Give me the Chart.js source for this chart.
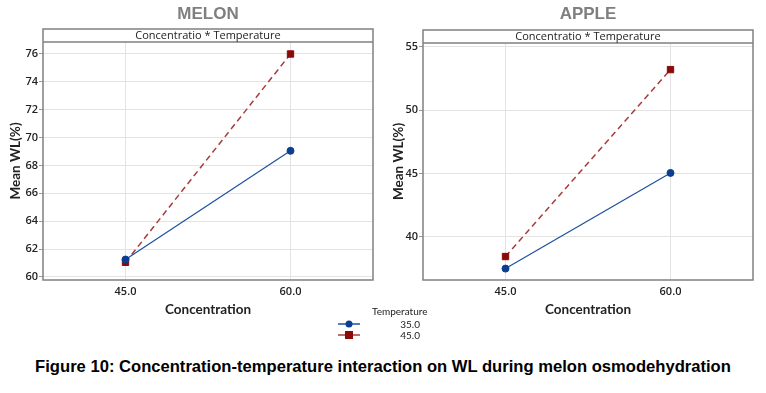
<!DOCTYPE html>
<html>
<head>
<meta charset="utf-8">
<script src="https://cdn.jsdelivr.net/npm/chart.js@4"></script>
<style>
  body { margin: 0; background: #fff; width: 766px; height: 393px; position: relative; overflow: hidden; }
  .panel { position: absolute; top: 0; width: 383px; height: 325px; }
  #legend { position: absolute; left: 338px; top: 305px; font-family: Lato, sans-serif; font-size: 10px; color: #222; }
  #legend .hd { margin-left: 34px; line-height: 13px; }
  #legend .row { display: flex; align-items: center; height: 11.5px; }
  #legend .row span { width: 58px; text-align: right; }
  #caption { position: absolute; left: 0; width: 766px; top: 357px; text-align: center;
    font-family: "Liberation Sans", Arial, sans-serif; font-weight: bold; font-size: 16.6px; color: #000; }
</style>
</head>
<body>
<div class="panel" style="left:0"><canvas id="melonChart" width="383" height="325"></canvas></div>
<div class="panel" style="left:383px"><canvas id="appleChart" width="383" height="325"></canvas></div>
<div id="legend"></div>
<div id="caption">Figure 10: Concentration-temperature interaction on WL during melon osmodehydration</div>

<script>
// data
const concentrations = ['45.0', '60.0'];
const temperatures = ['35.0', '45.0'];

const melon35 = [61.25, 69.05];
const melon45 = [61.05, 76.0];
const melonTicks = [60, 62, 64, 66, 68, 70, 72, 74, 76];

const apple35 = [37.5, 45.05];
const apple45 = [38.45, 53.2];
const appleTicks = [40, 45, 50, 55];

const headerText = 'Concentratio * Temperature';

const seriesStyle = [
    { color: '#1f4f9e', point: '#0b3d91', style: 'circle', radius: 3.5, dash: [], width: 1.2 },
    { color: '#a83c3c', point: '#8a0a0a', style: 'rect', radius: 4.5, dash: [6, 4], width: 1.5 }
];

// draws the panel title, the header strip and the frame
const panelFrame = {
    id: 'panelFrame',
    afterDraw(chart, args, opts) {
        const { ctx, chartArea: a } = chart;
        ctx.save();
        ctx.strokeStyle = '#808080';
        ctx.lineWidth = 1.5;
        ctx.strokeRect(a.left, a.top - 13, a.right - a.left, a.bottom - a.top + 13);
        ctx.beginPath();
        ctx.moveTo(a.left, a.top);
        ctx.lineTo(a.right, a.top);
        ctx.stroke();

        ctx.fillStyle = '#222';
        ctx.font = '11px "Open Sans", sans-serif';
        ctx.textAlign = 'center';
        ctx.textBaseline = 'middle';
        ctx.fillText(headerText, (a.left + a.right) / 2, a.top - 6);

        ctx.fillStyle = '#7f7f7f';
        ctx.font = 'bold 17px "Liberation Sans", Arial, sans-serif';
        ctx.fillText(opts.title, (a.left + a.right) / 2, 14);
        ctx.restore();
    }
};

const buildChart = (canvasId, title, s35, s45, tickValues, yMin, yMax, yWidth, padTop, padRight) => {
    const ctx = document.getElementById(canvasId).getContext('2d');
    const datasets = [s35, s45].map((values, i) => {
        const st = seriesStyle[i];
        return {
            label: temperatures[i],
            data: values,
            borderColor: st.color,
            borderWidth: st.width,
            borderDash: st.dash,
            pointStyle: st.style,
            pointRadius: st.radius,
            pointBackgroundColor: st.point,
            pointBorderColor: st.point,
            pointBorderWidth: 1,
            tension: 0
        };
    });

    return new Chart(ctx, {
        type: 'line',
        data: { labels: concentrations, datasets: datasets },
        options: {
            responsive: false,
            animation: false,
            layout: { padding: { top: padTop, right: padRight, left: 0, bottom: 0 } },
            plugins: {
                legend: { display: false },
                tooltip: { enabled: false },
                panelFrame: { title: title }
            },
            scales: {
                x: {
                    offset: true,
                    grid: { offset: false, color: '#e3e3e3', drawTicks: false },
                    border: { display: false },
                    ticks: { color: '#222', font: { family: 'Open Sans', size: 11, weight: '600' }, padding: 5 },
                    title: { display: true, text: 'Concentration', color: '#222',
                             font: { family: 'Lato', size: 13.5, weight: 'bold' }, padding: { top: 0, bottom: 7 } },
                    afterFit: s => { s.height = 45; }
                },
                y: {
                    min: yMin,
                    max: yMax,
                    grid: { color: '#e3e3e3', tickColor: '#999', tickLength: 4 },
                    border: { display: false },
                    ticks: { color: '#222', font: { family: 'Open Sans', size: 11, weight: '600' }, padding: 1 },
                    title: { display: true, text: 'Mean WL(%)', color: '#222',
                             font: { family: 'Lato', size: 13.5, weight: 'bold' }, padding: { top: 8, bottom: 0 } },
                    afterBuildTicks: s => { s.ticks = tickValues.map(v => ({ value: v })); },
                    afterFit: s => { s.width = yWidth; }
                }
            }
        },
        plugins: [panelFrame]
    });
};

buildChart('melonChart', 'MELON', melon35, melon45, melonTicks, 59.78, 76.86, 43, 42, 10);
buildChart('appleChart', 'APPLE', apple35, apple45, appleTicks, 36.6, 55.3, 40, 43, 13);

// shared legend
const legend = document.getElementById('legend');
let html = '<div class="hd">Temperature</div>';
temperatures.forEach((t, i) => {
    const st = seriesStyle[i];
    const marker = st.style === 'circle'
        ? `<circle cx="11" cy="6" r="3.5" fill="${st.point}"/>`
        : `<rect x="7" y="2" width="8" height="8" fill="${st.point}"/>`;
    html += `<div class="row"><svg width="24" height="12"><line x1="0" y1="6" x2="22" y2="6" stroke="${st.color}" stroke-width="1.5"/>${marker}</svg><span>${t}</span></div>`;
});
legend.innerHTML = html;
</script>
</body>
</html>
